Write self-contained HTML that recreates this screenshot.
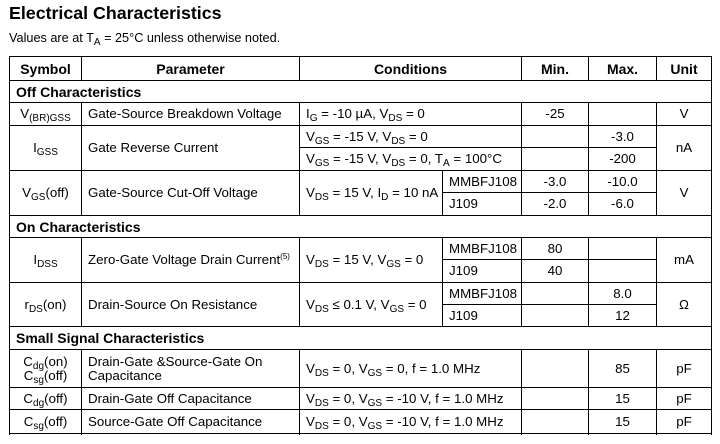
<!DOCTYPE html>
<html><head><meta charset="utf-8"><style>
body{margin:0;width:720px;height:444px;background:#fff;position:relative;overflow:hidden;font-family:"Liberation Sans",Arial,sans-serif;color:#000}
.h{position:absolute;height:1px;background:#000}
.v{position:absolute;width:1px;background:#000}
.c{position:absolute;display:flex;align-items:center;font-size:13.3px;line-height:14px;white-space:nowrap}
.c.ctr{justify-content:center;text-align:center}
.c.l{padding-left:6px;box-sizing:border-box}
.b{font-weight:bold;font-size:14px}
sub{font-size:10px;vertical-align:-3px;line-height:0}
sup{font-size:8px;vertical-align:5px;line-height:0}
</style></head><body>
<div style="position:absolute;left:9px;top:3px;font-size:17.8px;font-weight:bold">Electrical Characteristics</div>
<div style="position:absolute;left:9px;top:31px;font-size:12.7px">Values are at T<sub>A</sub> = 25°C unless otherwise noted.</div>
<div id="t"></div>
<script>
const T=document.getElementById('t');
const H=[[56,9,711],[80,9,711],[102,9,711],[125,9,711],[147,299,656],[170,9,711],[192,442,656],[215,9,711],[237,9,711],[259,442,656],[282,9,711],[304,442,656],[326,9,711],[349,9,711],[387,9,711],[409,9,711],[433,9,711]];
const V=[[9,56,434],[711,56,434]];
[81,299,521,588,656].forEach(x=>{V.push([x,56,80],[x,102,215],[x,237,326],[x,349,434]);});
V.push([442,170,215],[442,237,326]);
H.forEach(a=>{const d=document.createElement('div');d.className='h';d.style.cssText=`top:${a[0]}px;left:${a[1]}px;width:${a[2]-a[1]+1}px`;


T.appendChild(d);});
V.forEach(a=>{const d=document.createElement('div');d.className='v';d.style.cssText=`left:${a[0]}px;top:${a[1]}px;height:${a[2]-a[1]+1}px`;


T.appendChild(d);});
function c(x1,y1,x2,y2,html,cls,name){const d=document.createElement('div');d.className='c '+cls;d.style.cssText=`left:${x1+1}px;top:${y1+1}px;width:${x2-x1-1}px;height:${y2-y1-1}px`;d.innerHTML='<span>'+html+'</span>';


T.appendChild(d);}
c(9,56,81,80,'Symbol','ctr b','header-symbol');
c(81,56,299,80,'Parameter','ctr b','header-parameter');
c(299,56,521,80,'Conditions','ctr b','header-conditions');
c(521,56,588,80,'Min.','ctr b','header-min');
c(588,56,656,80,'Max.','ctr b','header-max');
c(656,56,711,80,'Unit','ctr b','header-unit');
c(9,80,711,102,'Off Characteristics','l b','section-off');
c(9,215,711,237,'On Characteristics','l b','section-on');
c(9,326,711,349,'Small Signal Characteristics','l b','section-small-signal');
c(9,102,81,125,'V<sub>(BR)GSS</sub>','ctr','symbol-vbrgss');
c(81,102,299,125,'Gate-Source Breakdown Voltage','l','param-vbrgss');
c(299,102,521,125,'I<sub>G</sub> = -10 µA, V<sub>DS</sub> = 0','l','cond-vbrgss');
c(521,102,588,125,'-25','ctr','min-vbrgss');
c(656,102,711,125,'V','ctr','unit-vbrgss');
c(9,125,81,170,'I<sub>GSS</sub>','ctr','symbol-igss');
c(81,125,299,170,'Gate Reverse Current','l','param-igss');
c(299,125,521,147,'V<sub>GS</sub> = -15 V, V<sub>DS</sub> = 0','l','cond-igss-1');
c(299,147,521,170,'V<sub>GS</sub> = -15 V, V<sub>DS</sub> = 0, T<sub>A</sub> = 100°C','l','cond-igss-2');
c(588,125,656,147,'-3.0','ctr','max-igss-1');
c(588,147,656,170,'-200','ctr','max-igss-2');
c(656,125,711,170,'nA','ctr','unit-igss');
c(9,170,81,215,'V<sub>GS</sub>(off)','ctr','symbol-vgsoff');
c(81,170,299,215,'Gate-Source Cut-Off Voltage','l','param-vgsoff');
c(299,170,442,215,'V<sub>DS</sub> = 15 V, I<sub>D</sub> = 10 nA','l','cond-vgsoff');
c(442,170,521,192,'MMBFJ108','l','device-vgsoff-1');
c(442,192,521,215,'J109','l','device-vgsoff-2');
c(521,170,588,192,'-3.0','ctr','min-vgsoff-1');
c(521,192,588,215,'-2.0','ctr','min-vgsoff-2');
c(588,170,656,192,'-10.0','ctr','max-vgsoff-1');
c(588,192,656,215,'-6.0','ctr','max-vgsoff-2');
c(656,170,711,215,'V','ctr','unit-vgsoff');
c(9,237,81,282,'I<sub>DSS</sub>','ctr','symbol-idss');
c(81,237,299,282,'Zero-Gate Voltage Drain Current<sup>(5)</sup>','l','param-idss');
c(299,237,442,282,'V<sub>DS</sub> = 15 V, V<sub>GS</sub> = 0','l','cond-idss');
c(442,237,521,259,'MMBFJ108','l','device-idss-1');
c(442,259,521,282,'J109','l','device-idss-2');
c(521,237,588,259,'80','ctr','min-idss-1');
c(521,259,588,282,'40','ctr','min-idss-2');
c(656,237,711,282,'mA','ctr','unit-idss');
c(9,282,81,326,'r<sub>DS</sub>(on)','ctr','symbol-rdson');
c(81,282,299,326,'Drain-Source On Resistance','l','param-rdson');
c(299,282,442,326,'V<sub>DS</sub> ≤ 0.1 V, V<sub>GS</sub> = 0','l','cond-rdson');
c(442,282,521,304,'MMBFJ108','l','device-rdson-1');
c(442,304,521,326,'J109','l','device-rdson-2');
c(588,282,656,304,'8.0','ctr','max-rdson-1');
c(588,304,656,326,'12','ctr','max-rdson-2');
c(656,282,711,326,'Ω','ctr','unit-rdson');
c(9,349,81,387,'C<sub>dg</sub>(on)<br>C<sub>sg</sub>(off)','ctr','symbol-cdgon');
c(81,349,299,387,'Drain-Gate &amp;Source-Gate On<br>Capacitance','l','param-cdgon');
c(299,349,521,387,'V<sub>DS</sub> = 0, V<sub>GS</sub> = 0, f = 1.0 MHz','l','cond-cdgon');
c(588,349,656,387,'85','ctr','max-cdgon');
c(656,349,711,387,'pF','ctr','unit-cdgon');
c(9,387,81,409,'C<sub>dg</sub>(off)','ctr','symbol-cdgoff');
c(81,387,299,409,'Drain-Gate Off Capacitance','l','param-cdgoff');
c(299,387,521,409,'V<sub>DS</sub> = 0, V<sub>GS</sub> = -10 V, f = 1.0 MHz','l','cond-cdgoff');
c(588,387,656,409,'15','ctr','max-cdgoff');
c(656,387,711,409,'pF','ctr','unit-cdgoff');
c(9,409,81,433,'C<sub>sg</sub>(off)','ctr','symbol-csgoff');
c(81,409,299,433,'Source-Gate Off Capacitance','l','param-csgoff');
c(299,409,521,433,'V<sub>DS</sub> = 0, V<sub>GS</sub> = -10 V, f = 1.0 MHz','l','cond-csgoff');
c(588,409,656,433,'15','ctr','max-csgoff');
c(656,409,711,433,'pF','ctr','unit-csgoff');
</script>
</body></html>
